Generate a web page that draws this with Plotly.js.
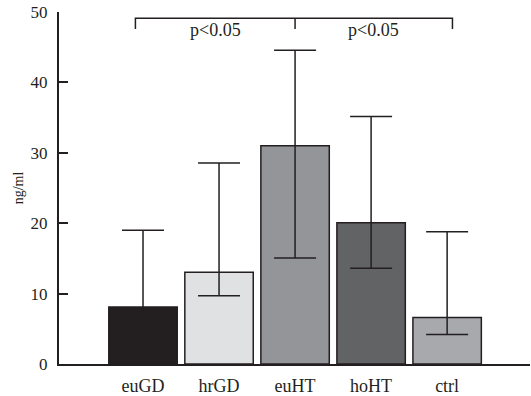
<!DOCTYPE html>
<html>
<head>
<meta charset="utf-8">
<script src="https://cdn.plot.ly/plotly-3.0.1.min.js"></script>
<style>html,body{margin:0;padding:0;background:#fff}#chart{width:531px;height:396px}</style>
</head>
<body>
<div id="chart"></div>
<script>
const categories = ["euGD", "hrGD", "euHT", "hoHT", "ctrl"];
const means = [8.1, 13.05, 31.0, 20.05, 6.6];
const upperBounds = [19.0, 28.55, 44.55, 35.15, 18.8];
const lowerBounds = [6.15, 9.7, 15.05, 13.6, 4.2];
const barColors = ["#231f20", "#e0e1e3", "#939598", "#626365", "#a7a9ac"];
const yTicks = [0, 10, 20, 30, 40, 50];
const sigLabel = "p<0.05";
const bracketLevel = 49.1;
const bracketDrop = 47.6;

const xIdx = categories.map((c, i) => i);
const ink = "#231f20";

const trace = {
  type: "bar",
  x: xIdx,
  y: means,
  width: 0.9,
  marker: { color: barColors, line: { color: ink, width: 1.5 } },
  error_y: {
    type: "data",
    symmetric: false,
    array: upperBounds.map((u, i) => u - means[i]),
    arrayminus: means.map((m, i) => m - lowerBounds[i]),
    color: ink,
    thickness: 1.5,
    width: 21
  },
  hoverinfo: "skip"
};

const left = -0.1, mid = 2, right = 4.07;
const shapes = [
  { type: "path", xref: "x", yref: "y",
    path: `M ${left} ${bracketDrop} L ${left} ${bracketLevel} L ${right} ${bracketLevel} L ${right} ${bracketDrop}`,
    line: { color: ink, width: 1.5 } },
  { type: "line", xref: "x", yref: "y", x0: mid, x1: mid, y0: bracketLevel, y1: bracketDrop,
    line: { color: ink, width: 1.5 } }
];

const annotations = [
  { x: (left + mid) / 2, y: 47.5, xref: "x", yref: "y", text: sigLabel, showarrow: false,
    font: { family: "Liberation Serif", size: 18, color: ink } },
  { x: (mid + right) / 2, y: 47.5, xref: "x", yref: "y", text: sigLabel, showarrow: false,
    font: { family: "Liberation Serif", size: 18, color: ink } }
];

const layout = {
  width: 531, height: 396,
  margin: { l: 59, r: 1, t: 12, b: 32 },
  paper_bgcolor: "#fff", plot_bgcolor: "#fff",
  font: { family: "Liberation Serif", size: 17, color: ink },
  showlegend: false,
  xaxis: {
    range: [-1.105, 5.09],
    tickvals: xIdx, ticktext: categories,
    tickfont: { family: "Liberation Serif", size: 18, color: ink },
    showgrid: false, zeroline: false,
    showline: true, linecolor: ink, linewidth: 2,
    ticks: "", ticklabelstandoff: 4,
    fixedrange: true
  },
  yaxis: {
    range: [0, 50],
    tickvals: yTicks,
    tickfont: { family: "Liberation Serif", size: 17, color: ink },
    showgrid: false, zeroline: false,
    showline: true, linecolor: ink, linewidth: 2,
    ticks: "inside", ticklen: 9, tickwidth: 2, tickcolor: ink,
    ticklabelstandoff: 6,
    title: { text: "ng/ml", font: { family: "Liberation Serif", size: 14, color: ink }, standoff: 4 },
    fixedrange: true
  },
  shapes: shapes,
  annotations: annotations
};

Plotly.newPlot("chart", [trace], layout, { displayModeBar: false, staticPlot: true });
</script>
</body>
</html>
